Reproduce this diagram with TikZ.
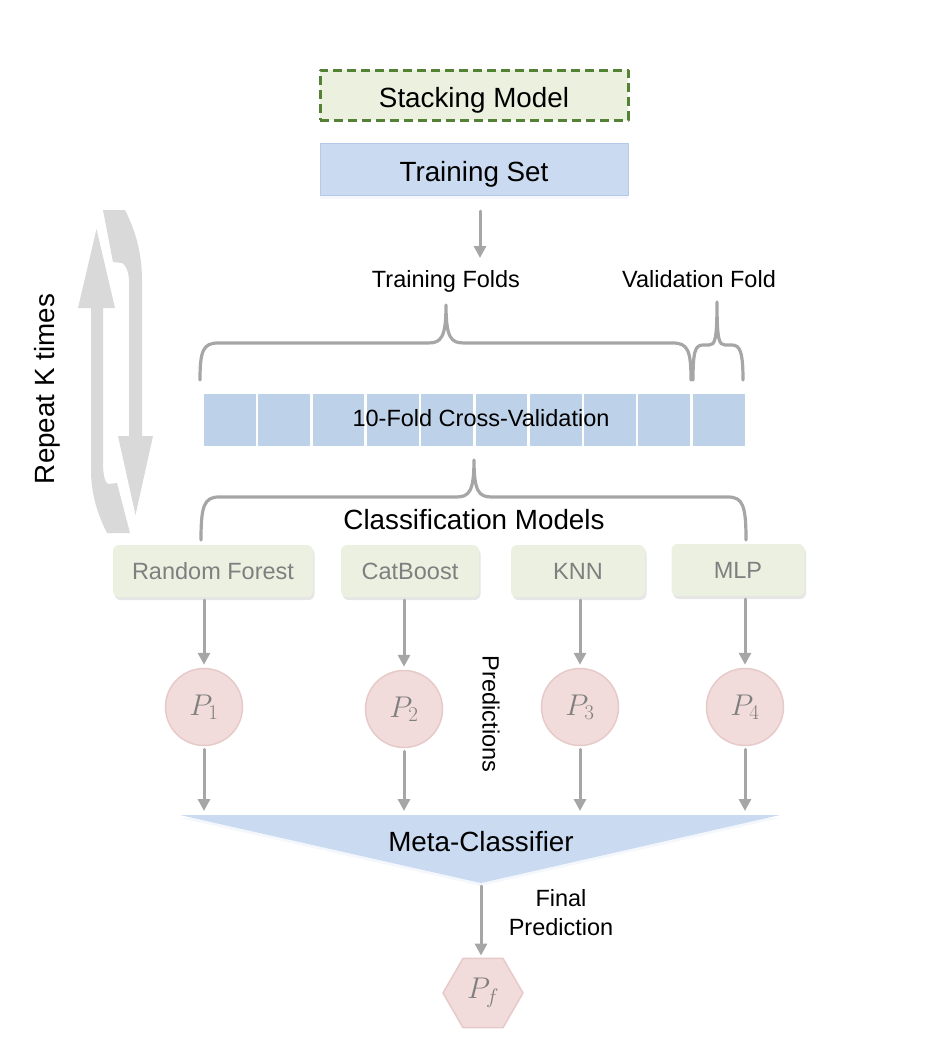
\documentclass[tikz,border=0pt]{standalone}
\usepackage{fix-cm}
\usepackage{fontspec}
\setmainfont{Liberation Sans}
\usetikzlibrary{arrows.meta,shapes.geometric,shadows}
\definecolor{tsblue}{RGB}{202,218,241}
\definecolor{tsline}{RGB}{183,201,232}
\definecolor{cellblue}{RGB}{189,209,232}
\definecolor{smfill}{RGB}{235,241,222}
\definecolor{smline}{RGB}{84,130,53}
\definecolor{modfill}{RGB}{235,240,225}
\definecolor{pfill}{RGB}{242,220,219}
\definecolor{pline}{RGB}{230,202,201}
\definecolor{arrgray}{RGB}{166,166,166}
\definecolor{loopgray}{RGB}{217,217,217}
\definecolor{txtgray}{RGB}{127,127,127}
\newcommand\bigtxt{\fontsize{27.8}{33}\selectfont}
\newcommand\midtxt{\fontsize{23.5}{29}\selectfont}
\newcommand\ptxt{\fontsize{30}{34}\selectfont}
\tikzset{
  model/.style={fill=modfill,rounded corners=6pt,minimum height=52pt,inner sep=0pt,text=txtgray,font=\midtxt,
    drop shadow={opacity=.2,shadow xshift=1.5pt,shadow yshift=-3pt}},
  pcirc/.style={circle,draw=pline,line width=1.5pt,fill=pfill,minimum size=77pt,inner sep=0pt,text=txtgray,font=\ptxt},
  cell/.style={fill=cellblue,minimum width=51.8pt,minimum height=52pt,inner sep=0pt},
  arr/.style={draw=arrgray,line width=3pt,-{Triangle[width=12pt,length=12pt]}},
  brc/.style={draw=arrgray,line width=3.2pt},
}
\begin{document}
\begin{tikzpicture}[x=1pt,y=-1pt,line join=round,line cap=round]
\useasboundingbox (0,0) rectangle (926,1055);
\node[draw=smline,fill=smfill,line width=3pt,dash pattern=on 9pt off 5pt,line cap=butt,minimum width=308pt,minimum height=50pt,inner sep=0pt,
  text height=24pt,text depth=0pt,font=\bigtxt] (sm) at (474,95) {Stacking Model};
\node[draw=tsline,line width=.8pt,fill=tsblue,minimum width=308pt,minimum height=52pt,inner sep=0pt,text height=24pt,text depth=0pt,font=\bigtxt,
  drop shadow={opacity=.15,shadow xshift=0pt,shadow yshift=-4pt,fill=tsline}] (ts) at (474,169) {Training Set};
\coordinate (tsout) at (480,211);
\coordinate (tfin) at (480,258);
\draw[arr] (tsout) -- (tfin);
\node[font=\midtxt] (tf) at (446,281) {Training Folds};
\node[font=\midtxt] (vf) at (699,279) {Validation Fold};
% braces over the folds
\draw[brc] (200,380) .. controls (200,351) and (203,343) .. (218,343) -- (428,343) .. controls (441,343) and (446,338) .. (446,305)
  .. controls (446,338) and (451,343) .. (464,343) -- (673,343) .. controls (688,343) and (691,351) .. (691,380);
\draw[brc] (693,380) .. controls (693,352) and (695,345) .. (703,345) -- (709,345) .. controls (715,345) and (717,340) .. (717,302)
  .. controls (717,340) and (719,345) .. (725,345) -- (732,345) .. controls (740,345) and (743,352) .. (743,380);
\foreach \i in {0,...,9}
  \node[cell] (c\i) at (204+\i*54.3+25.9,419.5) {};
\node[font=\midtxt] (cv) at (481,418) {10-Fold Cross-Validation};
\draw[brc] (201,540) .. controls (201,506) and (204,497) .. (219,497) -- (456,497) .. controls (469,497) and (474,492) .. (474,460)
  .. controls (474,492) and (479,497) .. (492,497) -- (728,497) .. controls (743,497) and (746,506) .. (746,540);
\node[font=\bigtxt] (cm) at (474,520) {Classification Models};
\node[model,minimum width=200pt] (rf) at (213,571) {Random Forest};
\node[model,minimum width=138pt] (cb) at (410,571) {CatBoost};
\node[model,minimum width=134pt] (knn) at (578,571) {KNN};
\node[model,minimum width=133pt] (mlp) at (738,570) {MLP};
\node[pcirc] (p1) at (204,707) {$P_1$};
\node[pcirc] (p2) at (404,709) {$P_2$};
\node[pcirc] (p3) at (580,707) {$P_3$};
\node[pcirc] (p4) at (745,707) {$P_4$};
\node[font=\midtxt,rotate=-90] (pred) at (491,714) {Predictions};
\path[fill=tsblue,drop shadow={opacity=.15,shadow xshift=0pt,shadow yshift=-3pt,fill=tsline}] (180,815) -- (780,815) -- (481,883) -- cycle;
\coordinate (mtop) at (481,815);
\coordinate (mbot) at (481,883);
\node[font=\bigtxt] (meta) at (481,842) {Meta-Classifier};
\foreach \m/\p in {rf/p1,cb/p2,knn/p3,mlp/p4}{
  \draw[arr,shorten <=3pt,shorten >=3pt] (\p |- \m.south) -- (\p.north);
  \draw[arr,shorten <=3pt,shorten >=4pt] (\p.south) -- (\p |- mtop);
}
\node[regular polygon,regular polygon sides=6,minimum size=80pt,inner sep=0pt,draw=pline,line width=1.5pt,fill=pfill,text=txtgray,font=\ptxt] (pf) at (483,993) {$P_f$};
\draw[arr,shorten <=3pt,shorten >=2pt] (mbot) -- (mbot |- pf.north);
\node[font=\midtxt,align=center] (fp) at (561,913) {Final\\Prediction};
% repeat loop
\fill[loopgray] (91,470) -- (91,308) -- (78,308) -- (96.5,229) -- (115,308) -- (103,308) -- (103,462)
  .. controls (103,476) and (105,482) .. (108,484) -- (117,483) -- (130,533) -- (107,533) .. controls (98,515) and (91,495) .. (91,470) -- cycle;
\fill[loopgray] (142,280) -- (142,436) -- (153,436) -- (135.5,515) -- (118,436) -- (129,436) -- (129,282)
  .. controls (129,272) and (126,265) .. (122,263) -- (113,262) -- (103,210) -- (125,210) .. controls (134,228) and (142,250) .. (142,280) -- cycle;
\node[font=\bigtxt,rotate=90] (rk) at (47,389) {Repeat K times};
\end{tikzpicture}
\end{document}
